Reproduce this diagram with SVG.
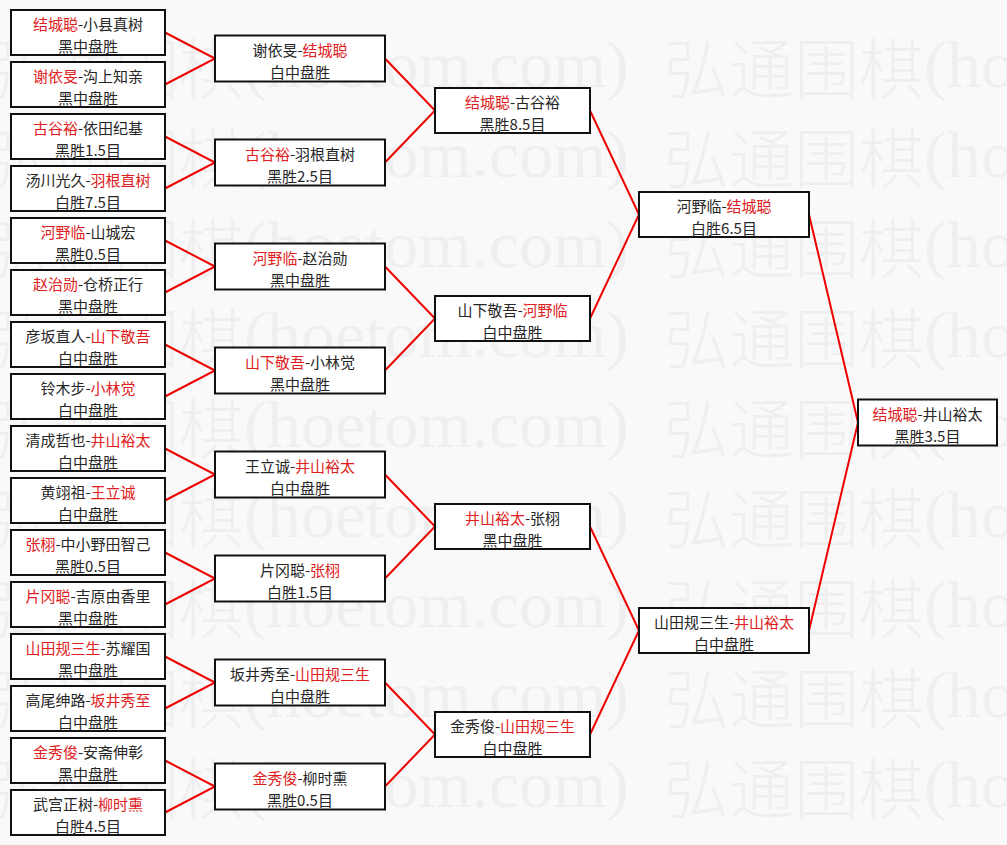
<svg xmlns="http://www.w3.org/2000/svg" xmlns:xlink="http://www.w3.org/1999/xlink" width="1007" height="845" viewBox="0 0 1007 845">
<style>
.bg{fill:#f9f9f9}
.wm{font-family:"Noto Sans CJK SC",sans-serif;font-size:65px;font-weight:300;fill:#efefef}
.wml{font-family:"Liberation Serif",serif;font-size:65px;fill:#efefef}
.box{fill:#fff;stroke:#111;stroke-width:2}
.t{font-family:"Noto Sans CJK SC",sans-serif;font-size:15px;fill:#262626;text-anchor:middle}
.r{fill:#e02020}
.wire{fill:none;stroke:#f00000;stroke-width:2;stroke-linejoin:miter}
</style>
<defs>
<g id="wmtile">
<text class="wm" x="0" y="0">弘通围棋</text>
<text class="wml" x="260" y="-6" textLength="385" lengthAdjust="spacingAndGlyphs">(hoetom.com)</text>
</g>
</defs>
<rect class="bg" x="0" y="0" width="1007" height="845"/>
<g id="watermark">
<use xlink:href="#wmtile" x="-16" y="93"/><use xlink:href="#wmtile" x="664" y="93"/>
<use xlink:href="#wmtile" x="-16" y="183"/><use xlink:href="#wmtile" x="664" y="183"/>
<use xlink:href="#wmtile" x="-16" y="273"/><use xlink:href="#wmtile" x="664" y="273"/>
<use xlink:href="#wmtile" x="-16" y="363"/><use xlink:href="#wmtile" x="664" y="363"/>
<use xlink:href="#wmtile" x="-16" y="453"/><use xlink:href="#wmtile" x="664" y="453"/>
<use xlink:href="#wmtile" x="-16" y="543"/><use xlink:href="#wmtile" x="664" y="543"/>
<use xlink:href="#wmtile" x="-16" y="633"/><use xlink:href="#wmtile" x="664" y="633"/>
<use xlink:href="#wmtile" x="-16" y="723"/><use xlink:href="#wmtile" x="664" y="723"/>
<use xlink:href="#wmtile" x="-16" y="813"/><use xlink:href="#wmtile" x="664" y="813"/>
</g>
<g id="connectors">
<path class="wire" d="M165 32.5L215 58.5L165 84.5"/>
<path class="wire" d="M165 136.5L215 162.5L165 188.5"/>
<path class="wire" d="M165 240.5L215 266.5L165 292.5"/>
<path class="wire" d="M165 344.5L215 370.5L165 396.5"/>
<path class="wire" d="M165 448.5L215 474.5L165 500.5"/>
<path class="wire" d="M165 552.5L215 578.5L165 604.5"/>
<path class="wire" d="M165 656.5L215 682.5L165 708.5"/>
<path class="wire" d="M165 760.5L215 786.5L165 812.5"/>
<path class="wire" d="M385 58.5L435 110.5L385 162.5"/>
<path class="wire" d="M385 266.5L435 318.5L385 370.5"/>
<path class="wire" d="M385 474.5L435 526.5L385 578.5"/>
<path class="wire" d="M385 682.5L435 734.5L385 786.5"/>
<path class="wire" d="M590 110.5L639 214.5L590 318.5"/>
<path class="wire" d="M590 526.5L639 630.5L590 734.5"/>
<path class="wire" d="M809 214.5L858 422.5L809 630.5"/>
</g>
<g id="r1-1"><rect class="box" x="11" y="10" width="154" height="45"/><text class="t" x="88" y="30"><tspan class="r">结城聪</tspan>-小县真树</text><text class="t" x="88" y="52">黑中盘胜</text></g>
<g id="r1-2"><rect class="box" x="11" y="62" width="154" height="45"/><text class="t" x="88" y="82"><tspan class="r">谢依旻</tspan>-沟上知亲</text><text class="t" x="88" y="104">黑中盘胜</text></g>
<g id="r1-3"><rect class="box" x="11" y="114" width="154" height="45"/><text class="t" x="88" y="134"><tspan class="r">古谷裕</tspan>-依田纪基</text><text class="t" x="88" y="156">黑胜1.5目</text></g>
<g id="r1-4"><rect class="box" x="11" y="166" width="154" height="45"/><text class="t" x="88" y="186">汤川光久-<tspan class="r">羽根直树</tspan></text><text class="t" x="88" y="208">白胜7.5目</text></g>
<g id="r1-5"><rect class="box" x="11" y="218" width="154" height="45"/><text class="t" x="88" y="238"><tspan class="r">河野临</tspan>-山城宏</text><text class="t" x="88" y="260">黑胜0.5目</text></g>
<g id="r1-6"><rect class="box" x="11" y="270" width="154" height="45"/><text class="t" x="88" y="290"><tspan class="r">赵治勋</tspan>-仓桥正行</text><text class="t" x="88" y="312">黑中盘胜</text></g>
<g id="r1-7"><rect class="box" x="11" y="322" width="154" height="45"/><text class="t" x="88" y="342">彦坂直人-<tspan class="r">山下敬吾</tspan></text><text class="t" x="88" y="364">白中盘胜</text></g>
<g id="r1-8"><rect class="box" x="11" y="374" width="154" height="45"/><text class="t" x="88" y="394">铃木步-<tspan class="r">小林觉</tspan></text><text class="t" x="88" y="416">白中盘胜</text></g>
<g id="r1-9"><rect class="box" x="11" y="426" width="154" height="45"/><text class="t" x="88" y="446">清成哲也-<tspan class="r">井山裕太</tspan></text><text class="t" x="88" y="468">白中盘胜</text></g>
<g id="r1-10"><rect class="box" x="11" y="478" width="154" height="45"/><text class="t" x="88" y="498">黄翊祖-<tspan class="r">王立诚</tspan></text><text class="t" x="88" y="520">白中盘胜</text></g>
<g id="r1-11"><rect class="box" x="11" y="530" width="154" height="45"/><text class="t" x="88" y="550"><tspan class="r">张栩</tspan>-中小野田智己</text><text class="t" x="88" y="572">黑胜0.5目</text></g>
<g id="r1-12"><rect class="box" x="11" y="582" width="154" height="45"/><text class="t" x="88" y="602"><tspan class="r">片冈聪</tspan>-吉原由香里</text><text class="t" x="88" y="624">黑中盘胜</text></g>
<g id="r1-13"><rect class="box" x="11" y="634" width="154" height="45"/><text class="t" x="88" y="654"><tspan class="r">山田规三生</tspan>-苏耀国</text><text class="t" x="88" y="676">黑中盘胜</text></g>
<g id="r1-14"><rect class="box" x="11" y="686" width="154" height="45"/><text class="t" x="88" y="706">高尾绅路-<tspan class="r">坂井秀至</tspan></text><text class="t" x="88" y="728">白中盘胜</text></g>
<g id="r1-15"><rect class="box" x="11" y="738" width="154" height="45"/><text class="t" x="88" y="758"><tspan class="r">金秀俊</tspan>-安斋伸彰</text><text class="t" x="88" y="780">黑中盘胜</text></g>
<g id="r1-16"><rect class="box" x="11" y="790" width="154" height="45"/><text class="t" x="88" y="810">武宫正树-<tspan class="r">柳时熏</tspan></text><text class="t" x="88" y="832">白胜4.5目</text></g>
<g id="r2-1"><rect class="box" x="215" y="35.5" width="170" height="46"/><text class="t" x="300" y="56">谢依旻-<tspan class="r">结城聪</tspan></text><text class="t" x="300" y="78">白中盘胜</text></g>
<g id="r2-2"><rect class="box" x="215" y="139.5" width="170" height="46"/><text class="t" x="300" y="160"><tspan class="r">古谷裕</tspan>-羽根直树</text><text class="t" x="300" y="182">黑胜2.5目</text></g>
<g id="r2-3"><rect class="box" x="215" y="243.5" width="170" height="46"/><text class="t" x="300" y="264"><tspan class="r">河野临</tspan>-赵治勋</text><text class="t" x="300" y="286">黑中盘胜</text></g>
<g id="r2-4"><rect class="box" x="215" y="347.5" width="170" height="46"/><text class="t" x="300" y="368"><tspan class="r">山下敬吾</tspan>-小林觉</text><text class="t" x="300" y="390">黑中盘胜</text></g>
<g id="r2-5"><rect class="box" x="215" y="451.5" width="170" height="46"/><text class="t" x="300" y="472">王立诚-<tspan class="r">井山裕太</tspan></text><text class="t" x="300" y="494">白中盘胜</text></g>
<g id="r2-6"><rect class="box" x="215" y="555.5" width="170" height="46"/><text class="t" x="300" y="576">片冈聪-<tspan class="r">张栩</tspan></text><text class="t" x="300" y="598">白胜1.5目</text></g>
<g id="r2-7"><rect class="box" x="215" y="659.5" width="170" height="46"/><text class="t" x="300" y="680">坂井秀至-<tspan class="r">山田规三生</tspan></text><text class="t" x="300" y="702">白中盘胜</text></g>
<g id="r2-8"><rect class="box" x="215" y="763.5" width="170" height="46"/><text class="t" x="300" y="784"><tspan class="r">金秀俊</tspan>-柳时熏</text><text class="t" x="300" y="806">黑胜0.5目</text></g>
<g id="r3-1"><rect class="box" x="435" y="88" width="155" height="45"/><text class="t" x="512.5" y="108"><tspan class="r">结城聪</tspan>-古谷裕</text><text class="t" x="512.5" y="130">黑胜8.5目</text></g>
<g id="r3-2"><rect class="box" x="435" y="296" width="155" height="45"/><text class="t" x="512.5" y="316">山下敬吾-<tspan class="r">河野临</tspan></text><text class="t" x="512.5" y="338">白中盘胜</text></g>
<g id="r3-3"><rect class="box" x="435" y="504" width="155" height="45"/><text class="t" x="512.5" y="524"><tspan class="r">井山裕太</tspan>-张栩</text><text class="t" x="512.5" y="546">黑中盘胜</text></g>
<g id="r3-4"><rect class="box" x="435" y="712" width="155" height="45"/><text class="t" x="512.5" y="732">金秀俊-<tspan class="r">山田规三生</tspan></text><text class="t" x="512.5" y="754">白中盘胜</text></g>
<g id="r4-1"><rect class="box" x="639" y="192" width="170" height="45"/><text class="t" x="724" y="212">河野临-<tspan class="r">结城聪</tspan></text><text class="t" x="724" y="234">白胜6.5目</text></g>
<g id="r4-2"><rect class="box" x="639" y="608" width="170" height="45"/><text class="t" x="724" y="628">山田规三生-<tspan class="r">井山裕太</tspan></text><text class="t" x="724" y="650">白中盘胜</text></g>
<g id="final"><rect class="box" x="858" y="399.5" width="139" height="46"/><text class="t" x="927.5" y="420"><tspan class="r">结城聪</tspan>-井山裕太</text><text class="t" x="927.5" y="442">黑胜3.5目</text></g>
</svg>
